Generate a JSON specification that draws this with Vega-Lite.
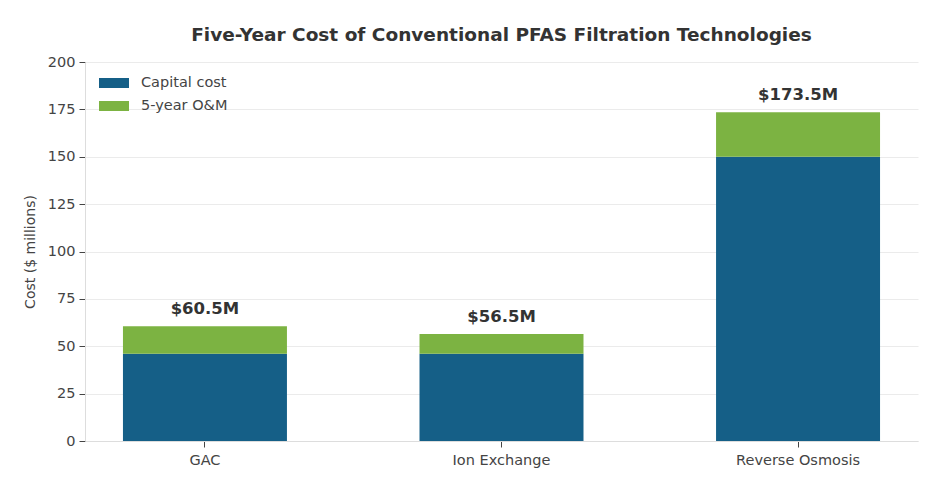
{
  "$schema": "https://vega.github.io/schema/vega-lite/v6.json",
  "description": "Five-year cost of conventional PFAS filtration technologies",
  "autosize": {"type": "none"},
  "width": 833,
  "height": 379,
  "padding": {"left": 85, "top": 62, "right": 22, "bottom": 51},
  "background": "white",
  "title": {
    "text": "Five-Year Cost of Conventional PFAS Filtration Technologies",
    "font": "DejaVu Sans",
    "fontSize": 18.5,
    "fontWeight": "bold",
    "color": "#333333",
    "anchor": "middle",
    "offset": 10
  },
  "config": {
    "font": "DejaVu Sans",
    "view": {"stroke": null},
    "axis": {
      "labelFont": "DejaVu Sans",
      "labelFontSize": 14.5,
      "labelColor": "#444444",
      "titleFont": "DejaVu Sans",
      "titleFontSize": 14,
      "titleFontWeight": "normal",
      "titleColor": "#444444",
      "domainColor": "#dddddd",
      "tickColor": "#444444",
      "tickSize": 6,
      "gridColor": "#ebebeb"
    }
  },
  "datasets": {
    "costs": [
      {"tech": "GAC", "component": "Capital cost", "cost": 46},
      {"tech": "GAC", "component": "5-year O&M", "cost": 14.5},
      {"tech": "Ion Exchange", "component": "Capital cost", "cost": 46},
      {"tech": "Ion Exchange", "component": "5-year O&M", "cost": 10.5},
      {"tech": "Reverse Osmosis", "component": "Capital cost", "cost": 150},
      {"tech": "Reverse Osmosis", "component": "5-year O&M", "cost": 23.5}
    ],
    "totals": [
      {"tech": "GAC", "total": 60.5, "label": "$60.5M"},
      {"tech": "Ion Exchange", "total": 56.5, "label": "$56.5M"},
      {"tech": "Reverse Osmosis", "total": 173.5, "label": "$173.5M"}
    ]
  },
  "encoding": {
    "x": {
      "field": "tech",
      "type": "nominal",
      "sort": ["GAC", "Ion Exchange", "Reverse Osmosis"],
      "scale": {"paddingInner": 0.447, "paddingOuter": 0.128},
      "axis": {"title": null, "labelAngle": 0, "labelPadding": 6, "grid": false}
    }
  },
  "layer": [
    {
      "data": {"name": "costs"},
      "mark": {"type": "bar"},
      "encoding": {
        "y": {
          "field": "cost",
          "type": "quantitative",
          "stack": "zero",
          "scale": {"domain": [0, 200], "nice": false},
          "axis": {
            "title": "Cost ($ millions)",
            "values": [0, 25, 50, 75, 100, 125, 150, 175, 200],
            "grid": true,
            "titlePadding": 10,
            "labelPadding": 4
          }
        },
        "color": {
          "field": "component",
          "type": "nominal",
          "sort": ["Capital cost", "5-year O&M"],
          "scale": {"domain": ["Capital cost", "5-year O&M"], "range": ["#155f87", "#7cb342"]},
          "legend": {
            "title": null,
            "orient": "none",
            "legendX": 19,
            "legendY": 11,
            "symbolType": "M-1.5,-0.5H1.5V0.5H-1.5Z",
            "symbolSize": 400,
            "symbolStrokeWidth": 0,
            "labelOffset": 17,
            "labelFontSize": 14.5,
            "labelColor": "#444444",
            "labelFont": "DejaVu Sans",
            "rowPadding": 6
          }
        },
        "order": {"field": "component", "sort": "descending"}
      }
    },
    {
      "data": {"name": "totals"},
      "mark": {"type": "text", "dy": -17, "fontSize": 16.5, "fontWeight": "bold", "color": "#333333", "font": "DejaVu Sans"},
      "encoding": {
        "y": {"field": "total", "type": "quantitative"},
        "text": {"field": "label", "type": "nominal"}
      }
    }
  ]
}
